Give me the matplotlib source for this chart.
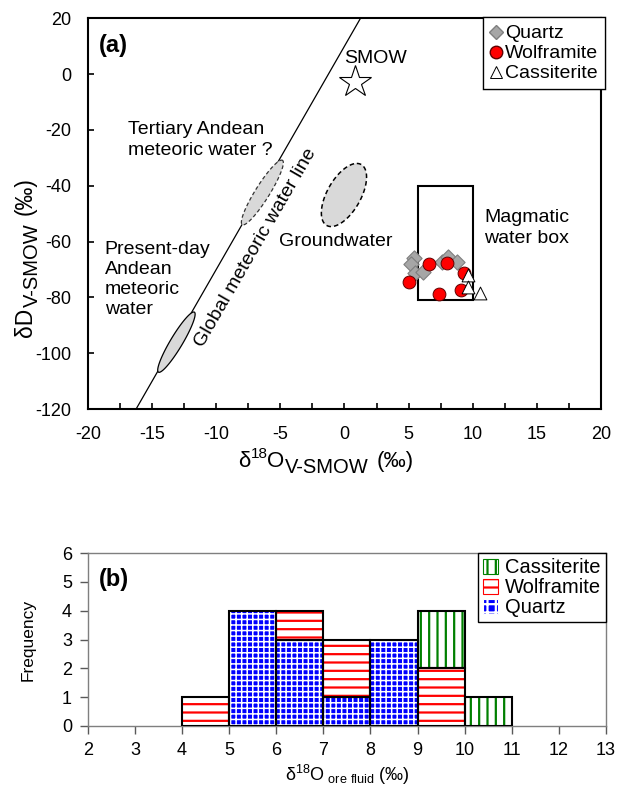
import numpy as np
import matplotlib
matplotlib.use("Agg")
import matplotlib.pyplot as plt
from matplotlib import patheffects as pe
from matplotlib.patches import Polygon, Rectangle, Patch
from matplotlib.lines import Line2D

plt.rcParams['font.family'] = ['Liberation Sans', 'DejaVu Sans']
plt.rcParams['mathtext.default'] = 'regular'
plt.rcParams['axes.unicode_minus'] = False
plt.rcParams['font.size'] = 14
plt.rcParams['hatch.linewidth'] = 1.6

# (a) stable isotope data
qtz_d18o = [5.4, 5.2, 5.5, 6.1, 7.6, 8.1, 8.8]
qtz_dD = [-65.9, -68.0, -71.2, -70.9, -67.3, -65.5, -67.3]
wol_d18o = [5.0, 6.6, 8.0, 9.3, 9.1, 7.4]
wol_dD = [-74.5, -68.0, -67.7, -71.3, -77.3, -78.8]
cas_d18o = [9.6, 9.6, 10.6]
cas_dD = [-72.0, -76.2, -78.4]
smow_xy = [0.8, -3.0]
mag_box = [5.7, -81.0, 10.0, -40.0]   # x0, y0, x1, y1
gmwl_x = [-16.25, 1.25]               # dD = 8*d18O + 10

# fields: centre, half-axis along the field, half-axis across
present_ell = [(-13.1, -96.0), (1.35, 10.8), (0.55, 0.0)]
tertiary_ell = [(-6.4, -42.4), (1.5, 11.6), (0.65, 0.0)]
ground_ell = [(-0.04, -43.3), (1.0, 11.3), (1.45, 0.0)]

# (b) histogram of fluid d18O, 1 per mil bins
bin_left = [4, 5, 6, 7, 8, 9, 10]
n_quartz = [0, 4, 3, 1, 3, 0, 0]
n_wolf = [1, 0, 1, 2, 0, 2, 0]
n_cass = [0, 0, 0, 0, 0, 2, 1]


def ellipse_pts(spec, n=200):
    (cx, cy), (ux, uy), (vx, vy) = spec
    t = np.linspace(0, 2 * np.pi, n)
    return np.column_stack([cx + ux * np.cos(t) + vx * np.sin(t),
                            cy + uy * np.cos(t) + vy * np.sin(t)])


def rich_label(fig, pieces, cx, cy, rotation=0):
    # pieces: (text, fontsize, baseline shift in pt, gap before in pt)
    r = fig.canvas.get_renderer()
    W, H = fig.bbox.width, fig.bbox.height
    k = fig.dpi / 72
    items = []
    for s, size, dy, gap in pieces:
        t = fig.text(0, 0, s, fontsize=size, ha='left', va='baseline')
        w = t.get_window_extent(r).width
        items.append((t, w, dy * k, gap * k))
    total = sum(w + g for _, w, _, g in items)
    pos = -total / 2
    for t, w, dy, g in items:
        pos += g
        if rotation == 0:
            x, y = cx + pos, cy + dy
        else:
            x, y = cx - dy, cy + pos
            t.set_rotation(90)
            t.set_rotation_mode('anchor')
        t.set_position((x / W, y / H))
        pos += w


fig = plt.figure(figsize=(6.19, 7.93), dpi=100)
ax = fig.add_axes([0.142, 0.484, 0.829, 0.493])
axb = fig.add_axes([0.142, 0.0845, 0.837, 0.218])

# ---------------- panel (a) ----------------
gx = np.array(gmwl_x)
ax.plot(gx, 8 * gx + 10, color='black', lw=0.9, zorder=2)

ax.add_patch(Polygon(ellipse_pts(present_ell), closed=True, fc='#d9d9d9',
                     ec='black', lw=0.9, zorder=3))
ax.add_patch(Polygon(ellipse_pts(tertiary_ell), closed=True, fc='#d9d9d9',
                     ec='#333333', lw=0.9, ls=(0, (3, 2)), zorder=3))
ax.add_patch(Polygon(ellipse_pts(ground_ell), closed=True, fc='#d9d9d9',
                     ec='black', lw=1.1, ls=(0, (3, 2)), zorder=3))

ax.add_patch(Rectangle((mag_box[0], mag_box[1]), mag_box[2] - mag_box[0],
                       mag_box[3] - mag_box[1], fill=False, ec='black',
                       lw=1.5, zorder=3))

ax.plot(smow_xy[0], smow_xy[1], marker='*', ms=24, mfc='white',
        mec='black', mew=0.8, ls='none', zorder=4)

ax.scatter(qtz_d18o, qtz_dD, marker='D', s=60, c='#a6a6a6',
           edgecolors='#7f7f7f', linewidths=0.8, zorder=5)
ax.scatter(wol_d18o, wol_dD, marker='o', s=85, c='#ff0000',
           edgecolors='#600000', linewidths=0.7, zorder=6)
ax.scatter(cas_d18o, cas_dD, marker='^', s=85, c='white',
           edgecolors='black', linewidths=0.7, zorder=7)

ax.text(2.4, 5.5, 'SMOW', ha='center', va='center')
ax.text(-16.9, -23.6, 'Tertiary Andean\nmeteoric water ?', ha='left',
        va='center', linespacing=1.3)
ax.text(-18.7, -73.5, 'Present-day\nAndean\nmeteoric\nwater', ha='left',
        va='center', linespacing=1.22)
ax.text(-6.95, -62.3, 'Global meteoric water line', ha='center',
        va='center', rotation=60, rotation_mode='anchor')
ax.text(-0.7, -60.0, 'Groundwater', ha='center', va='center')
ax.text(10.9, -55.0, 'Magmatic\nwater box', ha='left', va='center',
        linespacing=1.3)
ax.text(0.022, 0.93, '(a)', transform=ax.transAxes, fontsize=17,
        fontweight='bold', va='center')

ax.set_xlim(-20, 20)
ax.set_ylim(-120, 20)
ax.set_xticks(np.arange(-20, 21, 5))
ax.set_xticks(np.arange(-17.5, 20, 5), minor=True)
ax.set_yticks(np.arange(-120, 21, 20))
ax.tick_params(which='both', direction='in', length=4, width=1.2,
               top=False, right=False, labelsize=13, pad=12)
for s in ax.spines.values():
    s.set_linewidth(1.5)

h_a = [Line2D([], [], marker='D', ls='none', ms=7, mfc='#a6a6a6',
              mec='#7f7f7f'),
       Line2D([], [], marker='o', ls='none', ms=9, mfc='#ff0000',
              mec='#600000'),
       Line2D([], [], marker='^', ls='none', ms=8, mfc='white',
              mec='black', mew=0.7)]
leg = ax.legend(h_a, ['Quartz', 'Wolframite', 'Cassiterite'],
                loc='upper right', bbox_to_anchor=(1.006, 0.998),
                borderaxespad=0, handlelength=0.6, handletextpad=0.15,
                labelspacing=0.12, borderpad=0.3, fancybox=False,
                framealpha=1, edgecolor='black', fontsize=14)
leg.get_frame().set_path_effects([pe.Stroke(linewidth=3.2, foreground='black'),
                                  pe.Stroke(linewidth=1.2, foreground='white')])

# ---------------- panel (b) ----------------
left = np.array(bin_left)
q = np.array(n_quartz)
w = np.array(n_wolf)
c = np.array(n_cass)

layers = [
    (q, np.zeros_like(q), 'blue', 'white', '+++', 1.1),
    (w, q, 'white', 'red', '--', 1.6),
    (c, q + w, 'white', 'green', '||', 1.6),
]
for h, b, fc, hc, hatch, hlw in layers:
    m = h > 0
    with plt.rc_context({'hatch.linewidth': hlw}):
        axb.bar(left[m], h[m], bottom=b[m], width=1, align='edge', color=fc,
                edgecolor=hc, lw=0, hatch=hatch, zorder=2)
    axb.bar(left[m], h[m], bottom=b[m], width=1, align='edge', fill=False,
            edgecolor='black', lw=1.5, zorder=3)

axb.set_xlim(2, 13)
axb.set_ylim(0, 6)
axb.set_xticks(np.arange(2, 14, 1))
axb.set_yticks(np.arange(0, 7, 1))
axb.tick_params(direction='out', length=5.5, width=1, color='#595959',
                labelsize=13, pad=6)
for s in axb.spines.values():
    s.set_color('#7f7f7f')
    s.set_linewidth(1)
axb.set_xlabel(r'δ$^{18}$O$_{\ ore\ fluid}$ (‰)', fontsize=13, labelpad=3)
axb.set_ylabel('Frequency', fontsize=12.5, labelpad=19)
axb.text(0.022, 0.845, '(b)', transform=axb.transAxes, fontsize=17,
         fontweight='bold', va='center')

h_b = [Patch(facecolor='white', edgecolor='green', hatch='||', lw=0.8),
       Patch(facecolor='white', edgecolor='red', hatch='--', lw=0.8),
       Patch(facecolor='blue', edgecolor='white', hatch='++', lw=0.8)]
legb = axb.legend(h_b, ['Cassiterite', 'Wolframite', 'Quartz'],
                  loc='upper right', borderaxespad=0, handlelength=0.75,
                  handleheight=0.75, handletextpad=0.35, labelspacing=0.05,
                  borderpad=0.25, fancybox=False, framealpha=1,
                  edgecolor='black', fontsize=14.5)
legb.get_frame().set_linewidth(1)

# panel (a) axis labels with large subscripts
rich_label(fig, [('δ', 16, 0, 0), ('18', 11, 6.5, 0), ('O', 16, 0, 0),
                 ('V-SMOW', 14.5, -4, 0), ('(‰)', 16, 0, 6)],
           cx=326, cy=326)
rich_label(fig, [('δD', 16.5, 0, 0), ('V-SMOW', 14.5, -4, 0),
                 ('(‰)', 16.5, 0, 6)],
           cx=32, cy=536, rotation=90)

fig.savefig('out.png', dpi=100)
